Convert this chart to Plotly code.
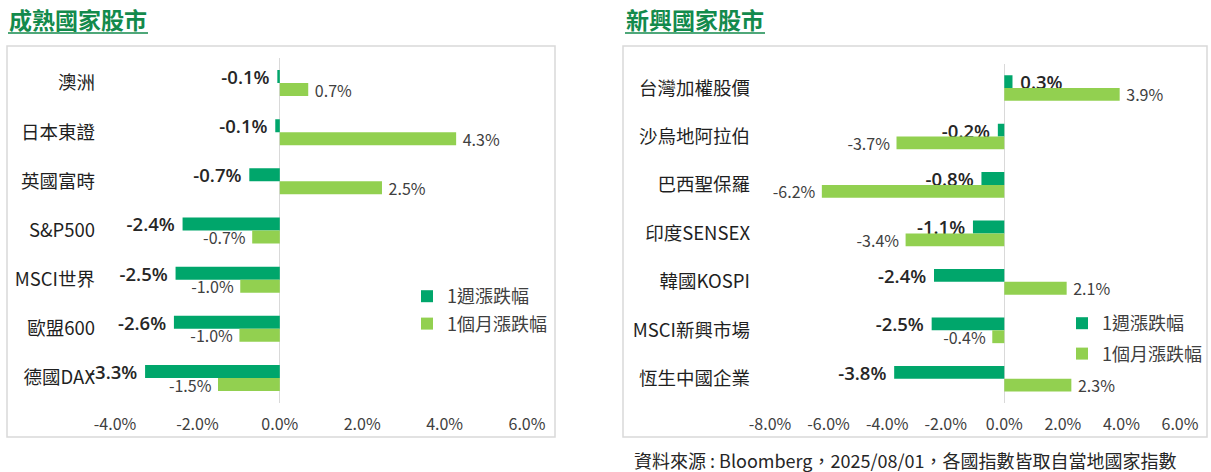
import plotly.graph_objects as go

# 成熟國家股市
mature_names = ["澳洲", "日本東證", "英國富時", "S&P500", "MSCI世界", "歐盟600", "德國DAX"]
mature_week = [-0.06, -0.11, -0.74, -2.36, -2.53, -2.57, -3.27]
mature_month = [0.69, 4.28, 2.48, -0.67, -0.96, -0.98, -1.5]

# 新興國家股市
emerging_names = ["台灣加權股價", "沙烏地阿拉伯", "巴西聖保羅", "印度SENSEX", "韓國KOSPI", "MSCI新興市場", "恆生中國企業"]
emerging_week = [0.28, -0.22, -0.78, -1.07, -2.4, -2.48, -3.76]
emerging_month = [3.94, -3.68, -6.23, -3.37, 2.13, -0.41, 2.29]

series_names = ["1週漲跌幅", "1個月漲跌幅"]
mature_ticks = [-4, -2, 0, 2, 4, 6]
emerging_ticks = [-8, -6, -4, -2, 0, 2, 4, 6]

DARK = "#00A66B"
LIGHT = "#92D050"
TITLE_GREEN = "#138A4C"
FONT = "Noto Sans CJK TC"
W, H = 1211, 472


def px(x):
    return x / W


def py(y):
    return 1 - y / H


def labels(vals):
    # a bit of space between bar end and label, like the excel chart
    out = []
    for v in vals:
        s = f"{v:.1f}%"
        out.append(s + "\u00a0" if v < 0 else "\u00a0" + s)
    return out


fig = go.Figure()

panels = [
    (mature_names, mature_week, mature_month, "x", "y", "legend"),
    (emerging_names, emerging_week, emerging_month, "x2", "y2", "legend2"),
]
for names, week, month, xa, ya, lg in panels:
    for vals, color, name, tfont in [
        (week, DARK, series_names[0], dict(size=18.5, color="#262626", family="Open Sans", weight=600)),
        (month, LIGHT, series_names[1], dict(size=16, color="#404040", family=FONT)),
    ]:
        fig.add_trace(go.Bar(
            y=names, x=vals, orientation="h", xaxis=xa, yaxis=ya,
            name=name, marker_color=color, marker_line_width=0,
            text=labels(vals), textposition="outside", textfont=tfont,
            cliponaxis=False, constraintext="none", hoverinfo="skip",
            legend=lg, legendgroup=lg + name,
        ))

xcommon = dict(showgrid=False, showline=False, zeroline=True, zerolinecolor="#D9D9D9",
               zerolinewidth=1, automargin=False,
               tickfont=dict(size=16, color="#404040", family=FONT),
               ticklabelstandoff=10, fixedrange=True)
ycommon = dict(showgrid=False, showline=False, zeroline=False, autorange="reversed",
               automargin=False, tickfont=dict(size=18.5, color="#1F1F1F", family=FONT),
               ticklabelstandoff=19, fixedrange=True)

fig.update_layout(
    width=W, height=H, margin=dict(l=0, r=0, t=0, b=0, pad=0), autosize=False,
    paper_bgcolor="white", plot_bgcolor="white",
    font=dict(family=FONT),
    barmode="group", bargap=0.47, bargroupgap=0,
    xaxis=dict(domain=[px(115), px(527)], range=[-4, 6], tickvals=mature_ticks,
               ticktext=[f"{t:.1f}%" for t in mature_ticks], anchor="y", **xcommon),
    yaxis=dict(domain=[py(402.6), py(58.4)], anchor="x", **ycommon),
    xaxis2=dict(domain=[px(770), px(1180)], range=[-8, 6], tickvals=emerging_ticks,
                ticktext=[f"{t:.1f}%" for t in emerging_ticks], anchor="y2", **xcommon),
    yaxis2=dict(domain=[py(403), py(63.8)], anchor="x2", **ycommon),
    legend=dict(x=px(407), y=py(278), xanchor="left", yanchor="top", tracegroupgap=1,
                font=dict(size=18, color="#404040", family=FONT), bgcolor="rgba(0,0,0,0)"),
    legend2=dict(x=px(1062), y=py(305), xanchor="left", yanchor="top", tracegroupgap=4,
                 font=dict(size=18, color="#404040", family=FONT), bgcolor="rgba(0,0,0,0)"),
    showlegend=True,
)

# panel boxes
for x0, x1 in [(7, 555), (623, 1207)]:
    fig.add_shape(type="rect", xref="paper", yref="paper", x0=px(x0), x1=px(x1), y0=py(437), y1=py(46),
                  line=dict(color="#D9D9D9", width=1.5), fillcolor="rgba(0,0,0,0)", layer="below")

# panel titles with underline
for text, x0, x1 in [("成熟國家股市", 8, 148), ("新興國家股市", 625, 765)]:
    fig.add_annotation(text=f"<b>{text}</b>", xref="paper", yref="paper", x=px(x0 - 1), y=py(19),
                       xanchor="left", yanchor="middle", showarrow=False,
                       font=dict(size=23, color=TITLE_GREEN, family=FONT))
    fig.add_shape(type="line", xref="paper", yref="paper", x0=px(x0), x1=px(x1), y0=py(33), y1=py(33),
                  line=dict(color=TITLE_GREEN, width=1.5))

fig.add_annotation(text="資料來源 : Bloomberg，2025/08/01，各國指數皆取自當地國家指數",
                   xref="paper", yref="paper", x=px(632), y=py(460), xanchor="left", yanchor="middle",
                   showarrow=False, font=dict(size=18, color="#262626", family=FONT))

fig.write_html("out.html", config={"displayModeBar": False},
               post_script="document.body.style.margin='0';")
